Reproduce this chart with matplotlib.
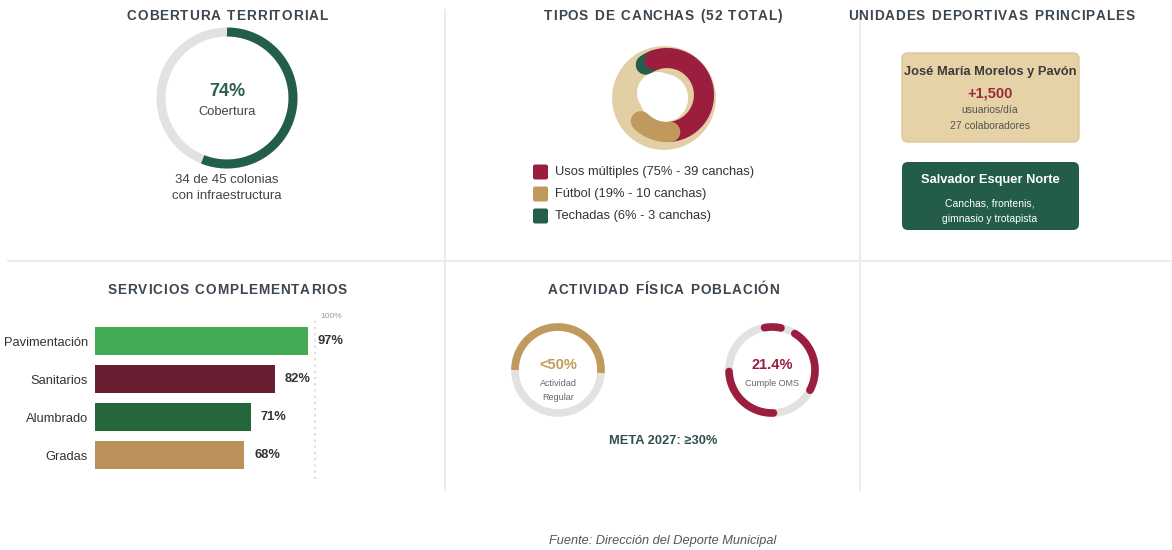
import numpy as np
import matplotlib.pyplot as plt
from matplotlib.patches import FancyBboxPatch

plt.rcParams['font.family'] = ['Liberation Sans', 'DejaVu Sans']

# --- data ---
cobertura_pct = 74
cobertura_arco = 0.56          # portion of ring drawn in the picture
colonias_con = 34
colonias_total = 45

canchas_tipos = ['Usos múltiples', 'Fútbol', 'Techadas']
canchas_num = [39, 10, 3]
canchas_pct = [75, 19, 6]

servicios = ['Pavimentación', 'Sanitarios', 'Alumbrado', 'Gradas']
servicios_pct = [97, 82, 71, 68]

actividad_regular = 0.50
oms_segmentos = [(100, 78), (58, -28), (-88, -178)]   # dashed arcs (deg)

# --- colours ---
TITLE = '#3b4650'
GREEN = '#235e4c'
CRIMSON = '#9b1e3f'
TAN = '#c09a5c'
BEIGE = '#e3cfa5'
RING = '#e2e2e2'
LINE = '#ececec'
bar_colors = ['#43ab55', '#6a1e32', '#23673b', '#ba9158']
canchas_colors = [CRIMSON, TAN, GREEN]

fig = plt.figure(figsize=(11.72, 5.5), dpi=100)
ax = fig.add_axes([0, 0, 1, 1])
ax.set_xlim(0, 1172)
ax.set_ylim(550, 0)
ax.axis('off')
renderer = fig.canvas.get_renderer()


def arc(cx, cy, r, a0, a1, color, lw, cap='butt', z=2):
    t = np.radians(np.linspace(a0, a1, 200))
    ax.plot(cx + r * np.cos(t), cy - r * np.sin(t), color=color, lw=lw,
            solid_capstyle=cap, zorder=z)


def title(x, y, s, size=9.8, spacing=0.9):
    # letter-spaced bold heading (1 data unit = 1 pixel)
    widths = []
    for ch in s:
        if ch == ' ':
            widths.append(4.6)
            continue
        t = ax.text(0, 0, ch, fontsize=size, fontweight='bold')
        widths.append(t.get_window_extent(renderer).width)
        t.remove()
    total = sum(widths) + spacing * (len(s) - 1)
    xx = x - total / 2
    for ch, w in zip(s, widths):
        ax.text(xx, y, ch, ha='left', va='center', fontsize=size,
                fontweight='bold', color=TITLE)
        xx += w + spacing


# grid lines
ax.plot([8, 1172], [261, 261], color=LINE, lw=1.5)
ax.plot([445, 445], [10, 490], color=LINE, lw=1.5)
ax.plot([860, 860], [10, 490], color=LINE, lw=1.5)

# --- cobertura territorial ---
title(227, 16, 'COBERTURA TERRITORIAL')
cx, cy, r = 227, 98, 66
arc(cx, cy, r, 0, 360, RING, 6.5)
arc(cx, cy, r, 90, 90 - 360 * cobertura_arco, GREEN, 6.5)
ax.text(cx, 91, f'{cobertura_pct}%', ha='center', va='center', fontsize=13,
        fontweight='bold', color='#2f5d50')
ax.text(cx, 112, 'Cobertura', ha='center', va='center', fontsize=9.3, color='#444')
ax.text(cx, 180, f'{colonias_con} de {colonias_total} colonias', ha='center',
        va='center', fontsize=9.5, color='#444')
ax.text(cx, 196, 'con infraestructura', ha='center', va='center', fontsize=9.5,
        color='#444')

# --- tipos de canchas ---
title(663, 16, f'TIPOS DE CANCHAS ({sum(canchas_num)} TOTAL)')
dcx, dcy = 664, 98
arc(dcx, dcy, 38, 0, 360, BEIGE, 20)
deg_per = 195 / canchas_num[0]
a = 125
for i in [2, 0, 1]:
    sweep = canchas_num[i] * deg_per
    arc(dcx + 3, dcy - 3, 37, a, a - sweep, canchas_colors[i], 14.5, cap='round', z=3)
    a -= sweep
ax.add_patch(plt.Circle((dcx - 6, dcy - 5), 21, fc='white', ec='none', zorder=4))

for k, (name, n, p) in enumerate(zip(canchas_tipos, canchas_num, canchas_pct)):
    y = 172 + 22 * k
    ax.add_patch(FancyBboxPatch((533, y - 7.5), 15, 15,
                                boxstyle='round,pad=0,rounding_size=2',
                                fc=canchas_colors[k], ec='none'))
    ax.text(555, y, f'{name} ({p}% - {n} canchas)', ha='left', va='center',
            fontsize=9.3, color='#333')

# --- unidades deportivas ---
title(991, 16, 'UNIDADES DEPORTIVAS PRINCIPALES')
ax.add_patch(FancyBboxPatch((902, 53), 177, 89,
                            boxstyle='round,pad=0,rounding_size=6',
                            fc='#e6d2a7', ec='#dcc69c', lw=1))
ax.text(990, 72, 'José María Morelos y Pavón', ha='center', va='center',
        fontsize=9.3, fontweight='bold', color='#3a3a3a')
ax.text(990, 93, '+1,500', ha='center', va='center', fontsize=10.5,
        fontweight='bold', color='#9b2a3c')
ax.text(990, 110, 'usuarios/día', ha='center', va='center', fontsize=7.5,
        color='#555')
ax.text(990, 126, '27 colaboradores', ha='center', va='center', fontsize=7.5,
        color='#555')
ax.add_patch(FancyBboxPatch((902, 162), 177, 68,
                            boxstyle='round,pad=0,rounding_size=6',
                            fc='#235c4b', ec='none'))
ax.text(990, 180, 'Salvador Esquer Norte', ha='center', va='center', fontsize=9.3,
        fontweight='bold', color='white')
ax.text(990, 203, 'Canchas, frontenis,', ha='center', va='center', fontsize=7.5,
        color='white')
ax.text(990, 219, 'gimnasio y trotapista', ha='center', va='center',
        fontsize=7.5, color='white')

# --- servicios complementarios ---
title(227, 290, 'SERVICIOS COMPLEMENTARIOS')
bx0, bx100 = 95, 314.6
bax = fig.add_axes([bx0 / 1172, 1 - 474 / 550, (bx100 - bx0) / 1172, 152 / 550])
bax.set_xlim(0, 100)
bax.set_ylim(3.5, -0.5)
ypos = np.arange(len(servicios))
bax.barh(ypos, servicios_pct, height=0.74, color=bar_colors)
bax.axvline(100, color='#dddddd', lw=1.5, ls=(0, (1, 2)), ymin=-0.03, ymax=1.02,
            clip_on=False)
for yv, v in zip(ypos, servicios_pct):
    bax.text(v + 4.5, yv, f'{v}%', ha='left', va='center', fontsize=9.3,
             fontweight='bold', color='#333')
bax.set_yticks(ypos)
bax.set_yticklabels(servicios, fontsize=9.3, color='#333')
bax.tick_params(axis='y', length=0, pad=5)
bax.set_xticks([])
for s in bax.spines.values():
    s.set_visible(False)
bax.patch.set_alpha(0)
bax.text(102.5, -0.55, '100%', ha='left', va='bottom', fontsize=6, color='#999')

# --- actividad fisica ---
title(663, 290, 'ACTIVIDAD FÍSICA POBLACIÓN')
acx, acy, ar = 558, 370, 43
arc(acx, acy, ar, 0, 360, RING, 5.5)
arc(acx, acy, ar, 180, 180 - 360 * actividad_regular - 4, TAN, 5.5)
ax.text(acx, 365, '<50%', ha='center', va='center', fontsize=10.5,
        fontweight='bold', color='#c49a5a')
ax.text(acx, 383, 'Actividad', ha='center', va='center', fontsize=6.5, color='#666')
ax.text(acx, 398, 'Regular', ha='center', va='center', fontsize=6.5, color='#666')

ocx, ocy = 772, 370
arc(ocx, ocy, ar, 0, 360, RING, 5.5)
for a0, a1 in oms_segmentos:
    arc(ocx, ocy, ar, a0, a1, CRIMSON, 5.5, cap='round')
ax.text(ocx, 365, '21.4%', ha='center', va='center', fontsize=10.5,
        fontweight='bold', color=CRIMSON)
ax.text(ocx, 383, 'Cumple OMS', ha='center', va='center', fontsize=6.5,
        color='#666')
ax.text(663, 441, 'META 2027: ≥30%', ha='center', va='center', fontsize=9.3,
        fontweight='bold', color='#2f4f4f')

# footer
ax.text(663, 541, 'Fuente: Dirección del Deporte Municipal', ha='center',
        va='center', fontsize=9.2, style='italic', color='#555')

fig.savefig('out.png', dpi=100, facecolor='white')
